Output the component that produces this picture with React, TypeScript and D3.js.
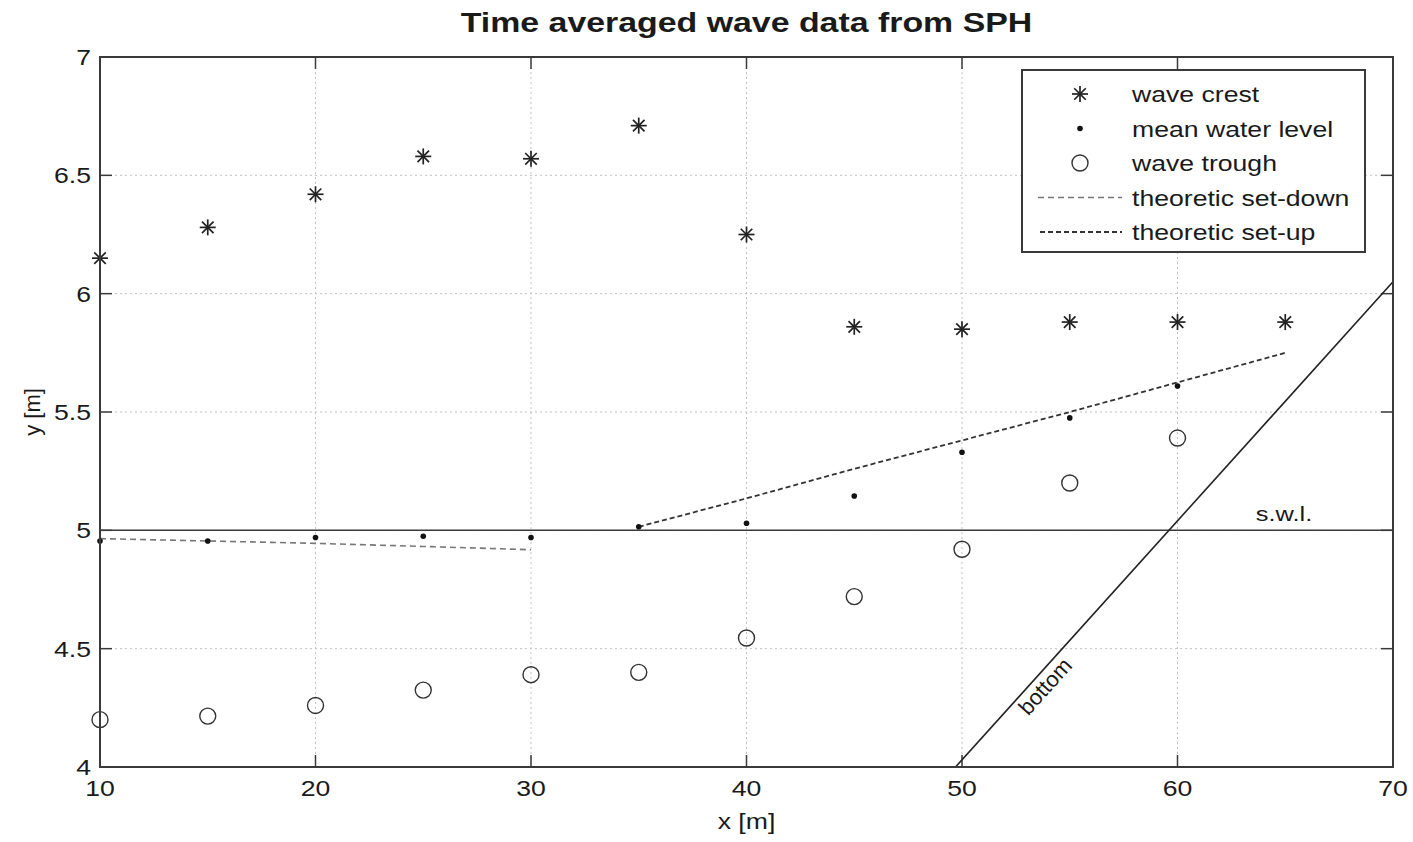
import React from "react";
import * as d3 from "d3";

const stations = [10, 15, 20, 25, 30, 35, 40, 45, 50, 55, 60, 65];
const crest = [6.15, 6.28, 6.42, 6.58, 6.57, 6.71, 6.25, 5.86, 5.85, 5.88, 5.88, 5.88];
const meanStations = [10, 15, 20, 25, 30, 35, 40, 45, 50, 55, 60];
const meanLevel = [4.955, 4.955, 4.97, 4.975, 4.97, 5.015, 5.03, 5.145, 5.33, 5.475, 5.61];
const troughStations = [10, 15, 20, 25, 30, 35, 40, 45, 50, 55, 60];
const trough = [4.2, 4.215, 4.26, 4.325, 4.39, 4.4, 4.545, 4.72, 4.92, 5.2, 5.39];
const setDownX = [10, 15, 20, 25, 30];
const setDownY = [4.965, 4.955, 4.945, 4.932, 4.918];
const setUpX = [35, 40, 45, 50, 55, 60, 65];
const setUpY = [5.015, 5.135, 5.26, 5.38, 5.5, 5.625, 5.75];
const bottomX = [49.7, 70];
const bottomY = [4.0, 6.05];
const swl = 5;
const xTicks = [10, 20, 30, 40, 50, 60, 70];
const yTicks = [4, 4.5, 5, 5.5, 6, 6.5, 7];
const legendLabels = ["wave crest", "mean water level", "wave trough", "theoretic set-down", "theoretic set-up"];

const W = 1413, H = 842;
const L = 100, R = 1393, T = 57, B = 767;
const FONT = "Liberation Sans, Arial, sans-serif";
const AX = "#3a3a3a";
const SX = 1.21;

function Txt({ x, y, size, anchor = "start", weight = "normal", children }: any) {
  return (
    <text transform={`translate(${x},${y}) scale(${SX},1)`} fontSize={size} textAnchor={anchor} fontWeight={weight} fill="#1a1a1a">
      {children}
    </text>
  );
}

function Star({ x, y, s = 8 }: { x: number; y: number; s?: number }) {
  const d = s * 0.72;
  return (
    <g stroke="#222" strokeWidth={1.7}>
      <line x1={x} y1={y - s} x2={x} y2={y + s} />
      <line x1={x - s} y1={y} x2={x + s} y2={y} />
      <line x1={x - d} y1={y - d} x2={x + d} y2={y + d} />
      <line x1={x - d} y1={y + d} x2={x + d} y2={y - d} />
    </g>
  );
}

export default function App() {
  const x = d3.scaleLinear().domain([10, 70]).range([L, R]);
  const y = d3.scaleLinear().domain([4, 7]).range([B, T]);
  const line = d3.line<[number, number]>().x((d) => x(d[0])).y((d) => y(d[1]));
  const setDown = line(setDownX.map((v, i) => [v, setDownY[i]]));
  const setUp = line(setUpX.map((v, i) => [v, setUpY[i]]));
  const bottom = line(bottomX.map((v, i) => [v, bottomY[i]]));
  const bx0 = x(bottomX[0]), by0 = y(bottomY[0]), bx1 = x(bottomX[1]), by1 = y(bottomY[1]);
  const len = Math.hypot(bx1 - bx0, by1 - by0);
  const ux = (bx1 - bx0) / len, uy = (by1 - by0) / len;
  const nx = -uy, ny = ux; // normal pointing down-right
  const ang = (Math.atan2(by1 - by0, bx1 - bx0) * 180) / Math.PI;
  const off = 19;
  const lblX = x(53.46) + nx * off, lblY = y(4.373) + ny * off;

  const lx = 1022, ly = 70, lw = 343, lh = 182;
  const rowY = (i: number) => 94 + i * 34.5;

  return (
    <svg width={W} height={H} style={{ position: "absolute", left: 0, top: 0, background: "#fff" }} fontFamily={FONT}>
      <rect x={0} y={0} width={W} height={H} fill="#fff" />
      {/* grid */}
      <g stroke="#c2c2c2" strokeWidth={1} strokeDasharray="2,3">
        {xTicks.slice(1, -1).map((t) => (
          <line key={"gx" + t} x1={x(t)} x2={x(t)} y1={T} y2={B} />
        ))}
        {yTicks.slice(1, -1).map((t) => (
          <line key={"gy" + t} x1={L} x2={R} y1={y(t)} y2={y(t)} />
        ))}
      </g>
      {/* ticks */}
      <g stroke={AX} strokeWidth={1.5}>
        {xTicks.map((t) => (
          <g key={"tx" + t}>
            <line x1={x(t)} x2={x(t)} y1={B} y2={B - 12} />
            <line x1={x(t)} x2={x(t)} y1={T} y2={T + 12} />
          </g>
        ))}
        {yTicks.map((t) => (
          <g key={"ty" + t}>
            <line x1={L} x2={L + 12} y1={y(t)} y2={y(t)} />
            <line x1={R} x2={R - 12} y1={y(t)} y2={y(t)} />
          </g>
        ))}
      </g>
      {/* s.w.l. */}
      <line x1={L} x2={R} y1={y(swl)} y2={y(swl)} stroke={AX} strokeWidth={1.5} />
      <Txt x={1284} y={y(swl) - 9} size={21} anchor="middle">s.w.l.</Txt>
      {/* bottom */}
      <path d={bottom || ""} stroke="#222" strokeWidth={1.6} fill="none" />
      <text x={lblX} y={lblY} fontSize={22} fill="#1a1a1a" transform={`rotate(${ang} ${lblX} ${lblY})`} textAnchor="middle">bottom</text>
      {/* theory lines */}
      <path d={setDown || ""} stroke="#777" strokeWidth={1.6} strokeDasharray="6,4" fill="none" />
      <path d={setUp || ""} stroke="#333" strokeWidth={1.8} strokeDasharray="5,3" fill="none" />
      {/* markers */}
      {stations.map((s, i) => (
        <Star key={"c" + i} x={x(s)} y={y(crest[i])} />
      ))}
      {meanStations.map((s, i) => (
        <circle key={"m" + i} cx={x(s)} cy={y(meanLevel[i])} r={2.8} fill="#111" />
      ))}
      {troughStations.map((s, i) => (
        <ellipse key={"t" + i} cx={x(s)} cy={y(trough[i])} rx={8} ry={8} fill="none" stroke="#333" strokeWidth={1.4} />
      ))}
      {/* axes box */}
      <rect x={L} y={T} width={R - L} height={B - T} fill="none" stroke={AX} strokeWidth={2} />
      {/* tick labels */}
      {xTicks.map((t) => (
        <Txt key={"lx" + t} x={x(t)} y={B + 29} size={22} anchor="middle">{t}</Txt>
      ))}
      {yTicks.map((t) => (
        <Txt key={"ly" + t} x={L - 9} y={y(t) + 8} size={22} anchor="end">{t}</Txt>
      ))}
      {/* axis labels */}
      <Txt x={(L + R) / 2} y={829} size={22} anchor="middle">x [m]</Txt>
      <text x={40} y={(T + B) / 2} fontSize={22} textAnchor="middle" fill="#1a1a1a" transform={`rotate(-90 40 ${(T + B) / 2})`}>y [m]</text>
      {/* title */}
      <Txt x={(L + R) / 2} y={32} size={28} anchor="middle" weight="bold">Time averaged wave data from SPH</Txt>
      {/* legend */}
      <rect x={lx} y={ly} width={lw} height={lh} fill="#fff" stroke={AX} strokeWidth={2} />
      <Star x={1080} y={rowY(0)} />
      <circle cx={1080} cy={rowY(1)} r={2.8} fill="#111" />
      <ellipse cx={1080} cy={rowY(2)} rx={8} ry={8} fill="none" stroke="#333" strokeWidth={1.4} />
      <line x1={1038} x2={1122} y1={rowY(3)} y2={rowY(3)} stroke="#777" strokeWidth={1.6} strokeDasharray="6,4" />
      <line x1={1040} x2={1122} y1={rowY(4)} y2={rowY(4)} stroke="#333" strokeWidth={1.8} strokeDasharray="5,3" />
      {legendLabels.map((lab, i) => (
        <Txt key={lab} x={1132} y={rowY(i) + 8} size={22}>{lab}</Txt>
      ))}
    </svg>
  );
}
